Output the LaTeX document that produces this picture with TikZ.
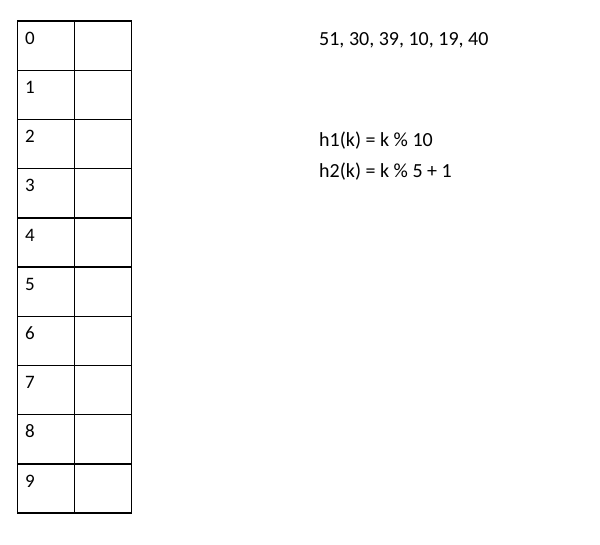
\documentclass[tikz,border=0pt]{standalone}
\usepackage{fontspec}
\setmainfont{Carlito}
\begin{document}
\begin{tikzpicture}[x=1pt,y=-1pt,
  cell/.style={draw=black,line width=1.4pt,minimum width=57pt,minimum height=49.2pt,inner sep=0pt,outer sep=0pt},
  idx/.style={anchor=base west,inner sep=0pt,font=\fontsize{19}{22}\selectfont},
  txt/.style={anchor=base west,inner sep=0pt,font=\fontsize{20}{24}\selectfont}]
\useasboundingbox[fill=white] (0,0) rectangle (600,544);
\foreach \i in {0,...,9}{
  \node[cell,anchor=north west] (l\i) at (17.5,{21+49.2*\i}) {};
  \node[cell,anchor=north west] (r\i) at (74.5,{21+49.2*\i}) {};
  \node[idx] (n\i) at (25,{21+49.2*\i+23.3}) {\i};
}
\node[txt] (keys) at (319,45) {51, 30, 39, 10, 19, 40};
\node[txt] (h1) at (319,146.5) {h1(k) = k \% 10};
\node[txt] (h2) at (319,177.5) {h2(k) = k \% 5 + 1};
\end{tikzpicture}
\end{document}
